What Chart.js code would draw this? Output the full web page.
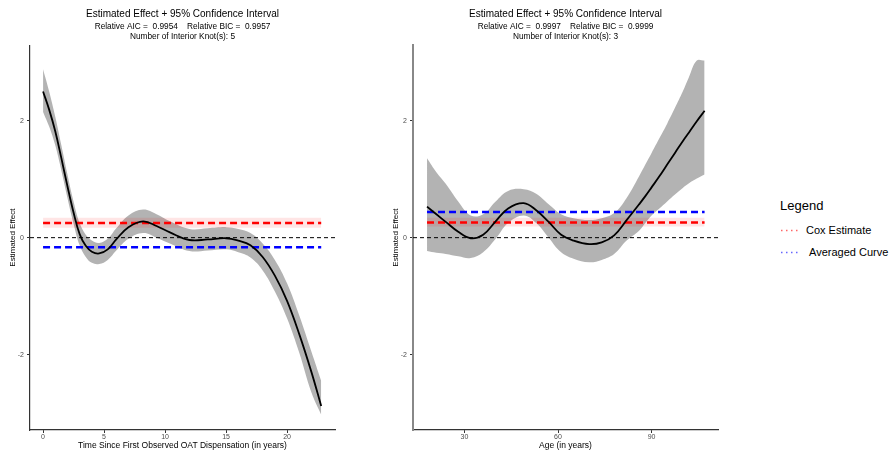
<!DOCTYPE html>
<html>
<head>
<meta charset="utf-8">
<script src="https://cdn.jsdelivr.net/npm/chart.js@4.4.1/dist/chart.umd.min.js"></script>
<style>
  body { margin: 0; width: 894px; height: 451px; background: #fff; position: relative; overflow: hidden;
         font-family: "Liberation Sans", Arial, sans-serif; }
  canvas { position: absolute; top: 0; }
  #leftChart { left: 0; }
  #rightChart { left: 383px; }
  #legend { position: absolute; left: 780px; top: 197px; color: #000; }
  #legend .ttl { font-size: 13px; line-height: 18px; margin-bottom: 9px; }
  #legend .item { font-size: 11px; line-height: 13px; height: 22px; display: flex; align-items: flex-start; }
  #legend svg { margin-top: 5px; margin-right: 8px; }
</style>
</head>
<body>
<canvas id="leftChart" width="361" height="451"></canvas>
<canvas id="rightChart" width="361" height="451"></canvas>
<div id="legend">
  <div class="ttl">Legend</div>
  <div class="item"><svg width="18" height="3"><line x1="1" y1="1.5" x2="18" y2="1.5" stroke="#ff0000" stroke-opacity="0.6" stroke-width="1.5" stroke-dasharray="1.5 3.5"/></svg><span>Cox Estimate</span></div>
  <div class="item"><svg width="18" height="3"><line x1="1" y1="1.5" x2="18" y2="1.5" stroke="#0000ff" stroke-opacity="0.6" stroke-width="1.5" stroke-dasharray="1.5 3.5"/></svg><span>&nbsp;Averaged Curve</span></div>
</div>
<script>
// left panel: time since first OAT dispensation
const leftX = [0, 0.5, 1, 1.5, 2, 2.5, 3, 3.5, 4, 4.6, 5.3, 6, 7, 8.2, 9.3, 10.4, 12, 13.5, 15, 16, 17, 18, 19, 20, 21, 22, 22.8];
const leftEst = [2.50, 2.19, 1.82, 1.36, 0.88, 0.43, 0.06, -0.14, -0.24, -0.27, -0.20, -0.03, 0.18, 0.28, 0.20, 0.09, -0.04, -0.03, -0.01, -0.05, -0.13, -0.33, -0.65, -1.08, -1.65, -2.30, -2.88];
const leftUpper = [2.88, 2.50, 2.07, 1.58, 1.08, 0.62, 0.25, 0.05, -0.05, -0.09, -0.02, 0.16, 0.38, 0.48, 0.40, 0.28, 0.15, 0.16, 0.18, 0.15, 0.08, -0.10, -0.38, -0.78, -1.33, -1.95, -2.45];
const leftLower = [2.15, 1.90, 1.58, 1.15, 0.68, 0.24, -0.13, -0.33, -0.43, -0.45, -0.38, -0.22, -0.02, 0.08, 0.00, -0.10, -0.23, -0.22, -0.20, -0.25, -0.34, -0.56, -0.92, -1.38, -1.97, -2.65, -3.03];
const leftRefRange = [0, 22.8];
const leftCox = [0.25, 0.17, 0.34];   // estimate, lower, upper
const leftAvg = -0.165;
const leftXLim = [-1.07, 23.93];
const leftXTicks = [0, 5, 10, 15, 20];

// right panel: age
const rightX = [18, 21, 24, 28, 32, 36, 40, 44, 49, 53, 57, 61, 65, 70, 74, 78, 82, 86, 88, 90, 92.5, 95, 97.5, 100, 102, 104.5, 107];
const rightEst = [0.53, 0.40, 0.27, 0.10, -0.01, 0.05, 0.28, 0.50, 0.59, 0.47, 0.27, 0.05, -0.05, -0.11, -0.08, 0.04, 0.30, 0.57, 0.71, 0.86, 1.05, 1.25, 1.45, 1.65, 1.80, 1.99, 2.17];
const rightUpper = [1.36, 1.12, 0.92, 0.62, 0.38, 0.40, 0.62, 0.80, 0.83, 0.75, 0.57, 0.40, 0.33, 0.30, 0.33, 0.42, 0.68, 1.05, 1.25, 1.45, 1.70, 1.95, 2.22, 2.50, 2.75, 3.03, 3.03];
const rightLower = [-0.23, -0.26, -0.28, -0.32, -0.35, -0.25, -0.02, 0.25, 0.38, 0.25, 0.00, -0.25, -0.36, -0.42, -0.38, -0.28, -0.05, 0.12, 0.25, 0.38, 0.50, 0.62, 0.74, 0.85, 0.93, 1.01, 1.08];
const rightRefRange = [18, 107];
const rightCox = [0.26, 0.19, 0.34];
const rightAvg = 0.44;
const rightXLim = [13.5, 111.3];
const rightXTicks = [30, 60, 90];

const yLim = [-3.29, 3.29];
const yTicks = [-2, 0, 2];

const FONT = '"Liberation Sans", Arial, sans-serif';

function pts(xs, ys) {
  return xs.map((x, i) => ({ x: x, y: ys[i] }));
}
function flat(range, y) {
  return [{ x: range[0], y: y }, { x: range[1], y: y }];
}

function makeChart(id, p) {
  const ctx = document.getElementById(id);
  return new Chart(ctx, {
    type: "line",
    data: {
      datasets: [
        { data: pts(p.x, p.est), borderColor: "#000", borderWidth: 1.8, tension: 0.4 },
        { data: flat(p.ref, p.cox[0]), borderColor: "#ff0000", borderWidth: 2.5, borderDash: [7, 4] },
        { data: flat(p.ref, p.avg), borderColor: "#0000ff", borderWidth: 2.5, borderDash: [7, 4] },
        { data: flat(p.xlim, 0), borderColor: "#000", borderWidth: 1, borderDash: [4, 3] },
        { data: flat(p.ref, p.cox[2]), borderWidth: 0, fill: "+1", backgroundColor: "rgba(255,0,0,0.1)" },
        { data: flat(p.ref, p.cox[1]), borderWidth: 0 },
        { data: pts(p.x, p.upper), borderWidth: 0, fill: "+1", backgroundColor: "#b3b3b3", tension: 0.4 },
        { data: pts(p.x, p.lower), borderWidth: 0, tension: 0.4 }
      ]
    },
    options: {
      responsive: false,
      animation: false,
      events: [],
      layout: { padding: { right: 26 } },
      elements: { point: { radius: 0 } },
      plugins: {
        legend: { display: false },
        tooltip: { enabled: false },
        title: {
          display: true, fullSize: false, text: "Estimated Effect + 95% Confidence Interval",
          font: { size: 10, weight: "normal", family: FONT }, color: "#000",
          padding: { top: 8, bottom: 2 }
        },
        subtitle: {
          display: true, fullSize: false, text: p.sub,
          font: { size: 8.3, family: FONT }, color: "#000",
          padding: { top: 0, bottom: 3.4 }
        }
      },
      scales: {
        x: {
          type: "linear", min: p.xlim[0], max: p.xlim[1],
          afterBuildTicks: s => { s.ticks = p.xticks.map(v => ({ value: v })); },
          afterFit: s => { s.height = 21; },
          grid: { display: true, drawOnChartArea: false, drawTicks: true, tickLength: 3, color: "#333" },
          border: { display: true, color: "#333", width: 1.2 },
          ticks: { font: { size: 7, family: FONT }, color: "#4d4d4d", padding: 0, maxRotation: 0, autoSkip: false },
          title: { display: true, text: p.xtitle, font: { size: 8.5, family: FONT }, color: "#000", padding: { top: 0, bottom: 0.5 } }
        },
        y: {
          type: "linear", min: yLim[0], max: yLim[1],
          afterBuildTicks: s => { s.ticks = yTicks.map(v => ({ value: v })); },
          afterFit: s => { s.width = 30; },
          grid: { display: true, drawOnChartArea: false, drawTicks: true, tickLength: 3, color: "#333" },
          border: { display: true, color: p.ycolor, width: p.ywidth },
          ticks: { font: { size: 7, family: FONT }, color: "#4d4d4d", padding: 3 },
          title: { display: true, text: "Estimated Effect", font: { size: 8, family: FONT }, color: "#000", padding: { top: 8, bottom: 0 } }
        }
      }
    }
  });
}

makeChart("leftChart", {
  x: leftX, est: leftEst, upper: leftUpper, lower: leftLower,
  ref: leftRefRange, cox: leftCox, avg: leftAvg, xlim: leftXLim, xticks: leftXTicks,
  sub: ["Relative AIC =  0.9954    Relative BIC =  0.9957", "Number of Interior Knot(s): 5"],
  xtitle: "Time Since First Observed OAT Dispensation (in years)",
  ycolor: "#333", ywidth: 1.2
});

makeChart("rightChart", {
  x: rightX, est: rightEst, upper: rightUpper, lower: rightLower,
  ref: rightRefRange, cox: rightCox, avg: rightAvg, xlim: rightXLim, xticks: rightXTicks,
  sub: ["Relative AIC =  0.9997    Relative BIC =  0.9999", "Number of Interior Knot(s): 3"],
  xtitle: "Age (in years)",
  ycolor: "#888", ywidth: 2
});
</script>
</body>
</html>
